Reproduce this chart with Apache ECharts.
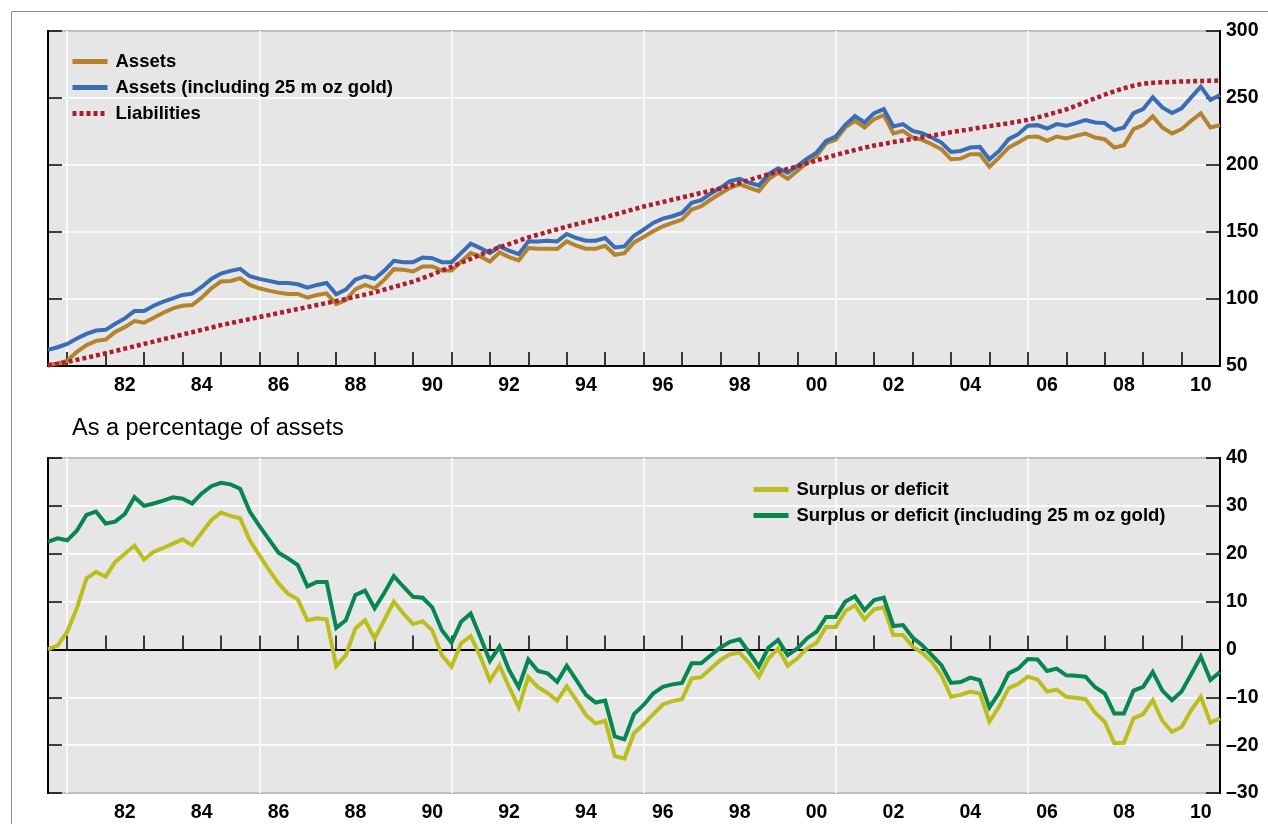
<!DOCTYPE html>
<html>
<head>
<meta charset="utf-8">
<script src="https://cdn.jsdelivr.net/npm/echarts@6/dist/echarts.min.js"></script>
<style>
html,body{margin:0;padding:0;background:#fff;}
#c{width:1268px;height:824px;}
</style>
</head>
<body>
<div id="c"></div>
<script>
// Quarterly observations, first point 1980 Q3, last point 2011 Q1
const firstYear = 1980, firstQuarter = 3;

// Top panel (£ billions)
const assets = [
 51, 51.75, 54, 60.5, 65.5, 68.75, 69.75, 75.5, 79, 83.5,
 82.25, 86, 89.75, 93, 95, 95.5, 101, 108, 113, 113.5,
 115.5, 110.5, 108, 106.25, 104.75, 103.75, 103.75, 101, 103, 104.25,
 96.25, 99.25, 107.25, 110.5, 108, 114.25, 122.25, 121.75, 120.5, 124.25,
 124.25, 121.25, 121.25, 128, 134.25, 131.75, 128, 134.75, 131.25, 128.75,
 138, 137.5, 137.5, 137.25, 143, 139.75, 137.5, 137.5, 139.75, 133,
 134.25, 142.25, 146.25, 150.5, 154.25, 156.75, 159.25, 166.75, 169.25, 174.25,
 178.75, 183, 185.5, 183, 180.5, 189.25, 194.25, 189.75, 195.5, 201.75,
 206.75, 216.25, 218.75, 228, 233, 228, 234.25, 237.25, 223.5, 225.5,
 220.5, 218.75, 215.5, 211.75, 204.25, 204.75, 208, 208, 198.75, 205.5,
 213, 216.75, 221, 221.25, 218, 221.25, 219.75, 221.75, 223.5, 220.5,
 219.25, 213, 214.75, 226.75, 229.75, 236.25, 228, 223.5, 226.75, 233,
 238.5, 228, 229.75
];
const assetsGold = [
 62, 64, 66.5, 70.5, 74, 76.5, 77, 81.5, 85.5, 91,
 91, 95, 98, 100.5, 103, 104, 109, 115, 119, 121,
 122.5, 117, 115, 113.5, 112, 112, 111, 108.5, 110.5, 112,
 103.5, 107, 114.5, 117, 115, 121, 128.5, 127.5, 127.5, 131,
 130.5, 127.5, 127.5, 134.25, 141.25, 138, 134.25, 139.25, 136, 133.5,
 143, 143, 143.5, 143, 148.5, 145.5, 143.5, 143.5, 145.5, 138.5,
 139.25, 147.25, 151.75, 156.75, 160, 161.75, 164.25, 171.75, 173.75, 178.75,
 183, 188, 189.75, 186.75, 184.75, 193, 197.5, 194.25, 199.25, 204.75,
 209.25, 218, 221.25, 230, 236.5, 231.75, 238.75, 241.75, 228.75, 230.5,
 225.5, 223.75, 220.5, 216.75, 209.75, 210.5, 213, 213.5, 204.25, 210.5,
 219.25, 223, 229.25, 229.75, 227.25, 230.5, 229.25, 231.25, 233.5, 231.75,
 231.25, 226, 228, 238.75, 241.75, 250.5, 243, 238.75, 242.25, 250.5,
 258.5, 248.5, 252.25
];
const liabilities = [
 50.5, 51.7, 53, 54.6, 56.2, 57.8, 59.5, 61.2, 63, 64.7,
 66.5, 68.2, 70, 71.7, 73.5, 75.2, 77, 78.7, 80.5, 82,
 83.5, 85, 86.5, 88, 89.5, 91, 92.5, 94, 95.5, 97,
 98.5, 100, 101.7, 103.3, 105, 107, 109, 111, 113, 115.5,
 118.3, 121.2, 124, 127, 130, 133, 136, 138.5, 141, 143.5,
 146, 148, 150, 152, 154, 155.8, 157.5, 159.3, 161, 163,
 165, 167, 169, 170.7, 172.4, 174.1, 175.8, 177.5, 179.2, 180.8,
 182.5, 184.6, 186.7, 188.8, 191, 193, 195, 197, 199, 201.2,
 203.4, 205.5, 207.5, 209.4, 211.2, 212.9, 214.5, 215.8, 217.1, 218.3,
 219.5, 220.7, 221.9, 223.2, 224.5, 225.6, 226.7, 227.9, 229, 230.1,
 231.2, 232.4, 233.7, 235.5, 237.4, 239.4, 241.5, 244.2, 247, 249.8,
 252.5, 255, 257.3, 259.2, 260.7, 261.3, 261.7, 262, 262.3, 262.5,
 262.7, 262.9, 263
];

// Bottom panel (% of assets)
const surplus = [
 0, 0.8, 3.7, 8.6, 14.8, 16.2, 15.2, 18.3, 20, 21.7,
 18.8, 20.4, 21.2, 22.1, 23, 21.8, 24.4, 27, 28.6, 27.9,
 27.4, 22.8, 19.7, 16.6, 13.8, 11.6, 10.5, 6.1, 6.5, 6.3,
 -3.5, -1.2, 4.4, 6.1, 2.3, 6.1, 10, 7.5, 5.3, 5.9,
 4, -1.2, -3.6, 1.3, 2.8, -1.5, -6.5, -3.4, -7.9, -12.1,
 -5.8, -7.9, -9.1, -10.7, -7.7, -10.6, -13.7, -15.5, -14.9, -22.3,
 -22.8, -17.5, -15.6, -13.5, -11.5, -10.8, -10.4, -6.1, -5.8, -4,
 -2.2, -1, -0.7, -2.9, -5.7, -1.9, 0.2, -3.4, -1.9, 0.2,
 1.4, 4.7, 4.7, 8, 9.2, 6.3, 8.4, 8.8, 3, 3,
 0.6, -0.7, -2.6, -5.4, -9.9, -9.5, -8.8, -9.2, -15.1, -12,
 -8.1, -7.2, -5.7, -6.3, -8.8, -8.4, -9.9, -10.1, -10.4, -13.2,
 -15.1, -19.6, -19.5, -14.4, -13.5, -10.6, -14.9, -17.2, -16.2, -12.7,
 -9.9, -15.3, -14.4
];
const surplusGold = [
 22.5, 23.2, 22.8, 24.8, 28.1, 28.8, 26.3, 26.7, 28.3, 31.8,
 30, 30.5, 31.1, 31.8, 31.5, 30.5, 32.6, 34.1, 34.8, 34.5,
 33.6, 28.8, 25.8, 23, 20.2, 19, 17.6, 13.2, 14.1, 14.1,
 4.5, 6.1, 11.4, 12.3, 8.6, 11.8, 15.3, 13.1, 11, 10.8,
 8.8, 4, 1.4, 5.8, 7.5, 2.6, -2.4, 0.6, -4.3, -7.9,
 -2.1, -4.5, -5, -6.8, -3.4, -6.4, -9.5, -11.1, -10.7, -18.2,
 -18.8, -13.5, -11.6, -9.2, -7.8, -7.3, -7, -2.9, -2.9, -1.2,
 0.4, 1.6, 2.1, -0.7, -3.6, 0.4, 2, -1.2, 0.2, 2.3,
 3.7, 6.8, 6.8, 10, 11.1, 8.2, 10.3, 10.8, 4.9, 5.1,
 2.5, 0.9, -1.2, -3.3, -7, -6.8, -5.9, -6.4, -12.1, -9.1,
 -5, -4, -2, -2.1, -4.5, -4, -5.4, -5.5, -5.7, -7.9,
 -9.2, -13.4, -13.4, -8.6, -7.8, -4.7, -8.6, -10.6, -8.8, -5.2,
 -1.5, -6.4, -4.7
];

// Axis labels / grid positions
const labelYears = [1982, 1984, 1986, 1988, 1990, 1992, 1994, 1996, 1998, 2000, 2002, 2004, 2006, 2008, 2010];
const gridYears = [1981, 1986, 1991, 1996, 2001, 2006];
const topTicks = [50, 100, 150, 200, 250, 300];
const bottomTicks = [-30, -20, -10, 0, 10, 20, 30, 40];

const names = {
  a: 'Assets', ag: 'Assets (including 25 m oz gold)', l: 'Liabilities',
  s: 'Surplus or deficit', sg: 'Surplus or deficit (including 25 m oz gold)'
};
const subtitle = 'As a percentage of assets';

// Category labels for each quarter
const quarters = assets.map((_, i) => {
  const q = firstQuarter - 1 + i;
  return (firstYear + Math.floor(q / 4)) + 'Q' + (q % 4 + 1);
});

const FONT = '"Liberation Sans", Arial, Helvetica, sans-serif';
const COL = { gold: '#b5822e', blue: '#3a6db5', red: '#ab1e2e', lime: '#bbbe1d', green: '#05874f' };

function xAxisFor(gi) {
  return {
    type: 'category', gridIndex: gi, data: quarters, boundaryGap: false,
    axisLine: { show: true, lineStyle: { color: '#000', width: 2 } },
    axisTick: {
      show: true, inside: true, length: 14,
      interval: (i, v) => v.endsWith('Q1') && i < quarters.length - 1,
      lineStyle: { color: '#000', width: 1.5 }
    },
    axisLabel: {
      show: true,
      interval: (i, v) => v.endsWith('Q3') && labelYears.includes(+v.slice(0, 4)),
      formatter: v => v.slice(2, 4),
      color: '#000', fontFamily: FONT, fontWeight: 'bold', fontSize: 19.5, margin: 10
    },
    splitLine: {
      show: true,
      interval: (i, v) => v.endsWith('Q1') && gridYears.includes(+v.slice(0, 4)),
      lineStyle: { color: '#fff', width: 1.5 }
    }
  };
}
function yAxisFor(gi, ticks, right) {
  const min = ticks[0], max = ticks[ticks.length - 1], step = ticks[1] - ticks[0];
  return {
    type: 'value', gridIndex: gi, position: right ? 'right' : 'left',
    min, max, interval: step,
    axisLine: { show: true, lineStyle: { color: '#000', width: 2 } },
    axisTick: { show: true, inside: true, length: 14, lineStyle: { color: '#000', width: 1.5 } },
    axisLabel: {
      show: right, color: '#000', fontFamily: FONT, fontWeight: 'bold', fontSize: 19.5, margin: 6,
      formatter: v => (v < 0 ? '\u2013' + (-v) : String(v))
    },
    splitLine: { show: right, lineStyle: { color: '#fff', width: 1.5 } }
  };
}
function lineSeries(name, data, color, xi, yi, extra) {
  return Object.assign({
    name, type: 'line', data, xAxisIndex: xi, yAxisIndex: yi,
    symbol: 'none', showSymbol: false, smooth: false,
    lineStyle: { color, width: 4, join: 'miter' },
    itemStyle: { color },
    emphasis: { disabled: true }, z: 3
  }, extra || {});
}

const legendCommon = {
  orient: 'vertical', itemWidth: 35, itemHeight: 5, itemGap: 7, padding: 0,
  selectedMode: false,
  itemStyle: { opacity: 0 }, lineStyle: { width: 5 },
  textStyle: { fontFamily: FONT, fontWeight: 'bold', fontSize: 18.5, color: '#000', padding: [0, 0, 0, 3] }
};

const option = {
  animation: false,
  backgroundColor: '#fff',
  title: {
    text: subtitle, left: 72, top: 417, padding: 0,
    textStyle: { fontFamily: FONT, fontWeight: 'normal', fontSize: 23.5, color: '#000' }
  },
  graphic: [{
    type: 'rect', x: 11.5, y: 11.5, shape: { x: 0, y: 0, width: 1400, height: 1000 },
    style: { fill: 'none', stroke: '#8c8c8c', lineWidth: 1 }, silent: true, z: -10
  }],
  legend: [
    Object.assign({}, legendCommon, { data: [names.a, names.ag, names.l], left: 70, top: 52 }),
    Object.assign({}, legendCommon, { data: [names.s, names.sg], left: 751, top: 480 })
  ],
  grid: [
    { left: 48, right: 48, top: 31, height: 335, show: true, backgroundColor: '#e6e6e6', borderColor: '#000', borderWidth: 2 },
    { left: 48, right: 48, top: 458, height: 335, show: true, backgroundColor: '#e6e6e6', borderColor: '#000', borderWidth: 2 }
  ],
  xAxis: [xAxisFor(0), xAxisFor(1)],
  yAxis: [yAxisFor(0, topTicks, true), yAxisFor(0, topTicks, false), yAxisFor(1, bottomTicks, true), yAxisFor(1, bottomTicks, false)],
  series: [
    lineSeries(names.a, assets, COL.gold, 0, 0),
    lineSeries(names.ag, assetsGold, COL.blue, 0, 0),
    lineSeries(names.l, liabilities, COL.red, 0, 0, {
      lineStyle: { color: COL.red, width: 4.5, type: [4, 3], cap: 'butt' }, z: 4
    }),
    lineSeries(names.s, surplus, COL.lime, 1, 2, {
      markLine: {
        silent: true, symbol: 'none', z: 2, animation: false,
        label: { show: false }, emphasis: { disabled: true },
        lineStyle: { color: '#000', width: 1.5, type: 'solid' },
        data: [{ yAxis: 0 }]
      }
    }),
    lineSeries(names.sg, surplusGold, COL.green, 1, 2)
  ]
};

const chart = echarts.init(document.getElementById('c'), null, { renderer: 'canvas' });
chart.setOption(option);
</script>
</body>
</html>
